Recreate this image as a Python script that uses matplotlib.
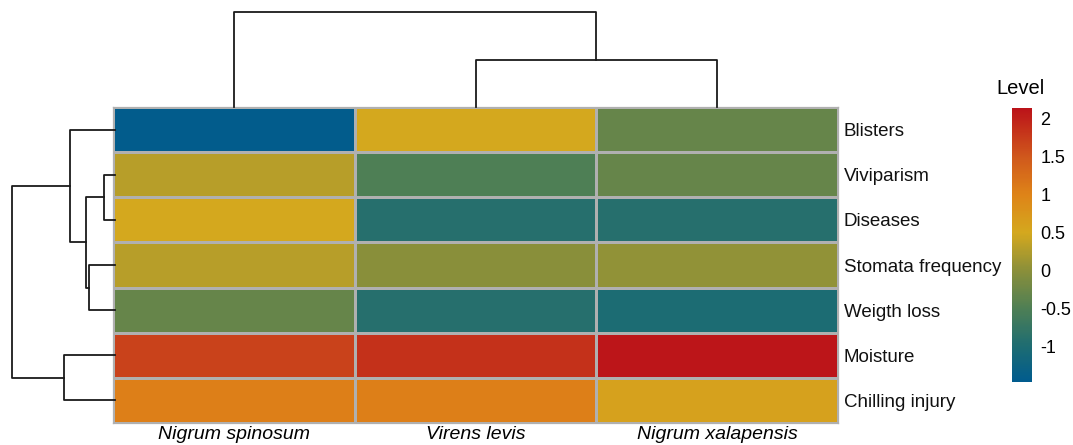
import numpy as np
from matplotlib import pyplot as plt
from matplotlib.colors import LinearSegmentedColormap, Normalize

plt.rcParams['font.family'] = ['Liberation Sans', 'DejaVu Sans']

# data
species = ['Nigrum spinosum', 'Virens levis', 'Nigrum xalapensis']
traits = ['Blisters', 'Viviparism', 'Diseases', 'Stomata frequency',
          'Weigth loss', 'Moisture', 'Chilling injury']
level = np.array([
    [-1.42, 0.50, -0.30],
    [0.30, -0.50, -0.30],
    [0.50, -0.90, -0.90],
    [0.30, 0.00, 0.05],
    [-0.30, -0.90, -1.00],
    [1.70, 1.85, 2.10],
    [1.05, 1.05, 0.60],
])
# dendrogram merges: (left node, right node, height) numbered like scipy
row_links = [(1, 2, 0.107), (3, 4, 0.25), (7, 8, 0.28), (5, 6, 0.50),
             (0, 9, 0.44), (11, 10, 1.0)]
col_links = [(1, 2, 0.5), (0, 3, 1.0)]

vmin, vmax = -1.46, 2.14
anchors = [(-1.46, '#005b8e'), (-1.0, '#1d6c72'), (-0.5, '#4e7f55'),
           (0.0, '#8a8f3a'), (0.5, '#d4a81e'), (1.0, '#de8418'),
           (1.5, '#d0581c'), (2.14, '#bb1219')]
cmap = LinearSegmentedColormap.from_list(
    'lvl', [((v - vmin) / (vmax - vmin), c) for v, c in anchors])
norm = Normalize(vmin, vmax)

W, H = 1073, 445
fig = plt.figure(figsize=(W / 100, H / 100), dpi=100)

def px_axes(x0, y0, x1, y1):
    return fig.add_axes([x0 / W, 1 - y1 / H, (x1 - x0) / W, (y1 - y0) / H])

# heatmap
ax = px_axes(113, 107, 838, 423)
ax.pcolormesh(level, cmap=cmap, norm=norm, edgecolors='#b0b0b0', linewidth=0.9)
ax.set_xlim(0, 3)
ax.set_ylim(7, 0)
ax.set_xticks(np.arange(3) + 0.5)
ax.set_xticklabels(species, style='italic', fontsize=14)
ax.set_yticks(np.arange(7) + 0.5)
ax.set_yticklabels(traits, fontsize=13.5, color='#111111')
ax.yaxis.tick_right()
ax.tick_params(length=0, pad=4)
ax.tick_params(axis='x', pad=2)
for s in ax.spines.values():
    s.set_color('#b0b0b0')
    s.set_linewidth(0.9)

def draw_dendro(dax, links, n, vertical):
    pos = {i: i + 0.5 for i in range(n)}
    hgt = {i: 0.0 for i in range(n)}
    for k, (a, b, h) in enumerate(links):
        xs = [hgt[a], h, h, hgt[b]]
        ys = [pos[a], pos[a], pos[b], pos[b]]
        if vertical:
            dax.plot(ys, xs, color='#1a1a1a', lw=1.3, clip_on=False)
        else:
            dax.plot(xs, ys, color='#1a1a1a', lw=1.3, clip_on=False)
        pos[n + k] = (pos[a] + pos[b]) / 2
        hgt[n + k] = h
    dax.axis('off')

rax = px_axes(12, 107, 115, 423)
draw_dendro(rax, row_links, 7, vertical=False)
rax.set_xlim(1.0, 0)
rax.set_ylim(7, 0)

cax_d = px_axes(113, 12, 838, 107)
draw_dendro(cax_d, col_links, 3, vertical=True)
cax_d.set_xlim(0, 3)
cax_d.set_ylim(0, 1.0)

# colorbar
cax = px_axes(1012, 108, 1032, 382)
cb = fig.colorbar(plt.cm.ScalarMappable(norm=norm, cmap=cmap), cax=cax)
cb.set_ticks([-1, -0.5, 0, 0.5, 1, 1.5, 2])
cb.set_ticklabels(['-1', '-0.5', '0', '0.5', '1', '1.5', '2'])
cb.ax.tick_params(length=0, labelsize=13, pad=6)
cb.outline.set_visible(False)
fig.text(1021 / W, 1 - 88 / H, 'Level', ha='center', va='center', fontsize=14.5)

fig.savefig('out.png', dpi=100, facecolor='white')
